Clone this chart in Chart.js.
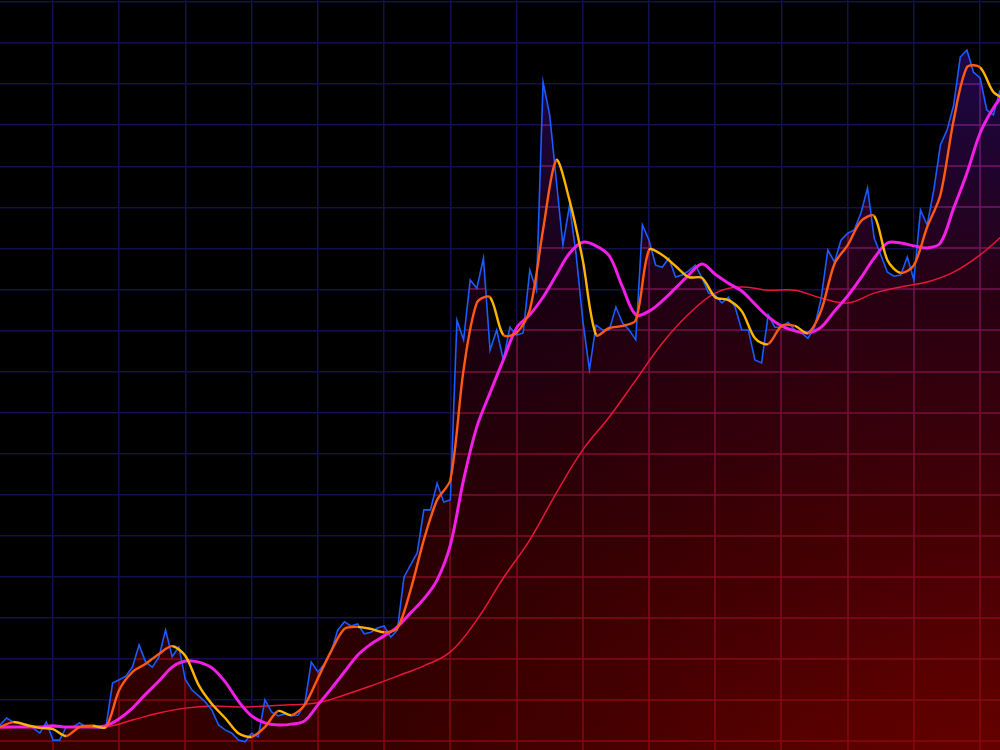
<!DOCTYPE html>
<html>
<head>
<meta charset="utf-8">
<script src="https://cdn.jsdelivr.net/npm/chart.js@4.4.1/dist/chart.umd.min.js"></script>
<style>
  html, body { margin: 0; padding: 0; background: #000; }
  #wrap { width: 1000px; height: 750px; }
</style>
</head>
<body>
<div id="wrap"><canvas id="priceChart" width="1000" height="750"></canvas></div>
<script>
// price, one reading per day, days -8 .. 143
const priceStart = -8;
const price = [
  3.9, 5.6, 4.6, 4.4, 4.1, 3.2, 1.9, 4.6,
  0.2, 0.2, 3.4, 3.4, 4.4, 3.4, 3.4, 3.2, 3.4, 14.1,
  14.9, 15.8, 18.0, 23.4, 19.2, 18.0, 20.5, 27.0, 20.5, 22.9,
  14.9, 12.4, 11.0, 9.5, 7.5, 3.9, 2.7, 1.9, 0.2, -0.2,
  1.9, 1.0, 10.0, 7.1, 6.1, 6.6, 6.1, 6.3, 8.8, 19.2,
  16.8, 18.8, 21.7, 27.0, 29.0, 28.0, 28.5, 26.1, 26.5, 27.5,
  28.0, 25.3, 27.0, 39.9, 42.9, 45.8, 56.3, 56.3, 62.8, 58.2,
  58.7, 102.5, 97.7, 112.3, 110.3, 117.6, 95.2, 100.1, 92.8, 100.8,
  98.9, 99.4, 114.7, 109.8, 160.5, 152.5, 136.6, 120.8, 130.5, 118.4,
  102.5, 90.4, 101.3, 100.1, 100.1, 105.7, 101.8, 100.1, 97.7, 125.7,
  122.0, 115.9, 115.4, 117.6, 113.0, 113.5, 114.5, 115.9, 112.8, 109.1,
  108.6, 106.7, 108.1, 105.7, 100.1, 100.1, 92.8, 92.1, 103.8, 100.8,
  100.8, 102.0, 100.1, 99.4, 98.1, 100.8, 107.9, 119.6, 116.7, 122.0,
  123.7, 124.5, 128.6, 134.7, 122.5, 118.4, 114.2, 113.2, 113.5, 117.9,
  112.3, 129.3, 125.7, 134.2, 145.2, 148.8, 154.9, 166.6, 168.3, 162.9,
  161.5, 153.7, 152.5, 158.5
];

// moving averages, every 2 days from day -8
const maStart = -8;
const maStep = 2;
const fastMA = [
  3.4, 4.6, 3.9, 3.2,
  2.9, 1.2, 3.4, 3.7, 3.4,
  12.4, 16.8, 18.8, 21.2, 23.1,
  20.7, 13.6, 9.0, 5.6, 1.9,
  1.0, 3.4, 7.3, 6.3, 8.8,
  15.3, 21.9, 27.3, 27.8, 27.3,
  26.5, 27.5, 36.8, 49.0, 58.7,
  63.6, 90.4, 106.7, 108.1, 98.9,
  99.4, 105.0, 124.5, 141.5, 131.7,
  117.1, 98.9, 100.6, 101.1, 102.5,
  119.6, 118.4, 115.7, 113.0, 112.8,
  108.1, 107.4, 104.7, 98.1, 96.7,
  101.1, 101.1, 99.4, 104.9, 116.2,
  120.8, 126.6, 127.9, 117.1, 114.0,
  115.9, 125.2, 133.0, 151.2, 164.1,
  164.1, 158.1, 156.1
];
const slowMA = [
  3.4, 3.4, 3.4, 3.4,
  3.7, 3.4, 3.4, 3.4, 3.7,
  5.4, 8.0, 11.4, 14.6, 18.0,
  19.5, 19.2, 17.8, 14.4, 9.7,
  6.1, 4.4, 3.9, 4.1, 4.9,
  8.8, 12.7, 16.8, 20.9, 23.6,
  25.6, 27.8, 31.2, 34.6, 39.2,
  47.7, 63.6, 76.5, 84.8, 92.8,
  100.6, 103.8, 108.1, 113.5, 118.8,
  121.5, 120.6, 118.2, 110.6, 103.8,
  104.7, 107.2, 110.3, 113.5, 116.2,
  113.7, 111.5, 109.6, 106.4, 103.3,
  101.1, 99.9, 99.4, 100.8, 104.7,
  108.4, 112.8, 117.6, 121.3, 121.3,
  120.6, 120.1, 121.3, 129.8, 138.3,
  148.1, 154.2, 158.5
];

// long trend average, every 4 days from day -8
const trendStart = -8;
const trendStep = 4;
const trendMA = [
  3.2, 3.4, 3.4, 3.4, 3.4, 5.1, 6.8, 8.0, 8.5, 8.3,
  8.5, 8.8, 9.3, 11.2, 13.4, 15.8, 18.3, 21.7, 29.5, 39.7,
  49.0, 60.4, 70.9, 78.9, 87.9, 96.9, 104.0, 109.1, 110.6, 109.8,
  109.8, 107.9, 106.7, 109.1, 110.6, 111.8, 114.2, 118.4, 124.0
];

// axis ranges and grid steps
const xMin = -8, xMax = 143, xStep = 10;
const yMin = -2.2, yMax = 180.5, yStep = 10;

const toPoints = (arr, start, step) => arr.map((v, i) => ({ x: start + i * step, y: v }));

let fillPaint = null;
function getFillPaint(chart) {
    if (fillPaint) return fillPaint;
    const w = chart.width, h = chart.height;
    const off = document.createElement('canvas');
    off.width = w; off.height = h;
    const c = off.getContext('2d');
    const v = c.createLinearGradient(0, h, 0, 0);
    v.addColorStop(0, 'rgb(52,0,0)');
    v.addColorStop(0.3, 'rgb(36,0,4)');
    v.addColorStop(0.6, 'rgb(26,0,18)');
    v.addColorStop(0.85, 'rgb(28,5,56)');
    v.addColorStop(1, 'rgb(32,10,90)');
    c.fillStyle = v;
    c.fillRect(0, 0, w, h);
    c.globalCompositeOperation = 'lighter';
    const r = c.createRadialGradient(w, h + 10, 0, w, h + 10, 650);
    r.addColorStop(0, 'rgba(50,0,0,1)');
    r.addColorStop(1, 'rgba(50,0,0,0)');
    c.fillStyle = r;
    c.fillRect(0, 0, w, h);
    fillPaint = chart.ctx.createPattern(off, 'no-repeat');
    return fillPaint;
}

// grid lines seen through the filled area take a red / violet tint
const gridInFill = {
    id: 'gridInFill',
    afterDatasetDraw(chart, args) {
        if (args.index !== 0) return;
        const pts = args.meta.data;
        const { ctx, chartArea: a, scales: { x, y } } = chart;
        ctx.save();
        ctx.beginPath();
        ctx.moveTo(pts[0].x, a.bottom);
        pts.forEach(p => ctx.lineTo(p.x, p.y));
        ctx.lineTo(pts[pts.length - 1].x, a.bottom);
        ctx.closePath();
        ctx.clip();
        const g = ctx.createLinearGradient(0, a.bottom, 0, a.top);
        g.addColorStop(0, 'rgb(135,8,12)');
        g.addColorStop(0.45, 'rgb(120,14,56)');
        g.addColorStop(1, 'rgb(105,28,140)');
        ctx.strokeStyle = g;
        ctx.lineWidth = 1.5;
        ctx.beginPath();
        x.ticks.forEach((t, i) => {
            const px = Math.round(x.getPixelForTick(i));
            ctx.moveTo(px, a.top); ctx.lineTo(px, a.bottom);
        });
        y.ticks.forEach((t, i) => {
            const py = Math.round(y.getPixelForTick(i));
            ctx.moveTo(a.left, py); ctx.lineTo(a.right, py);
        });
        ctx.stroke();
        ctx.restore();
    }
};

const gridStyle = { color: '#11114f', lineWidth: 1.5, drawTicks: false };

const ctx = document.getElementById('priceChart').getContext('2d');
new Chart(ctx, {
    type: 'line',
    data: {
        datasets: [{
            label: 'area',
            data: toPoints(price, priceStart, 1),
            borderWidth: 0,
            pointRadius: 0,
            tension: 0,
            fill: 'start',
            backgroundColor: c => getFillPaint(c.chart),
            order: 5
        }, {
            label: 'MA long',
            data: toPoints(trendMA, trendStart, trendStep),
            borderColor: '#e8163a',
            borderWidth: 1.5,
            pointRadius: 0,
            tension: 0.4,
            fill: false,
            order: 4
        }, {
            label: 'price',
            data: toPoints(price, priceStart, 1),
            borderColor: '#1a5cff',
            borderWidth: 1.6,
            pointRadius: 0,
            tension: 0,
            fill: false,
            order: 3
        }, {
            label: 'MA slow',
            data: toPoints(slowMA, maStart, maStep),
            borderColor: '#f21ee6',
            borderWidth: 3,
            pointRadius: 0,
            tension: 0.35,
            fill: false,
            order: 2
        }, {
            label: 'MA fast',
            data: toPoints(fastMA, maStart, maStep),
            borderColor: '#ff8a10',
            segment: {
                borderColor: s => s.p1.parsed.y >= s.p0.parsed.y ? '#ff5a14' : '#ffb400'
            },
            borderWidth: 2.4,
            pointRadius: 0,
            tension: 0.3,
            fill: false,
            order: 1
        }]
    },
    options: {
        responsive: false,
        animation: false,
        layout: { padding: 0 },
        plugins: {
            legend: { display: false },
            tooltip: { enabled: false }
        },
        scales: {
            x: {
                type: 'linear',
                min: xMin,
                max: xMax,
                ticks: { display: false, stepSize: xStep, includeBounds: false },
                grid: gridStyle,
                border: { display: false }
            },
            y: {
                min: yMin,
                max: yMax,
                ticks: { display: false, stepSize: yStep, includeBounds: false },
                grid: gridStyle,
                border: { display: false }
            }
        }
    },
    plugins: [gridInFill]
});
</script>
</body>
</html>
